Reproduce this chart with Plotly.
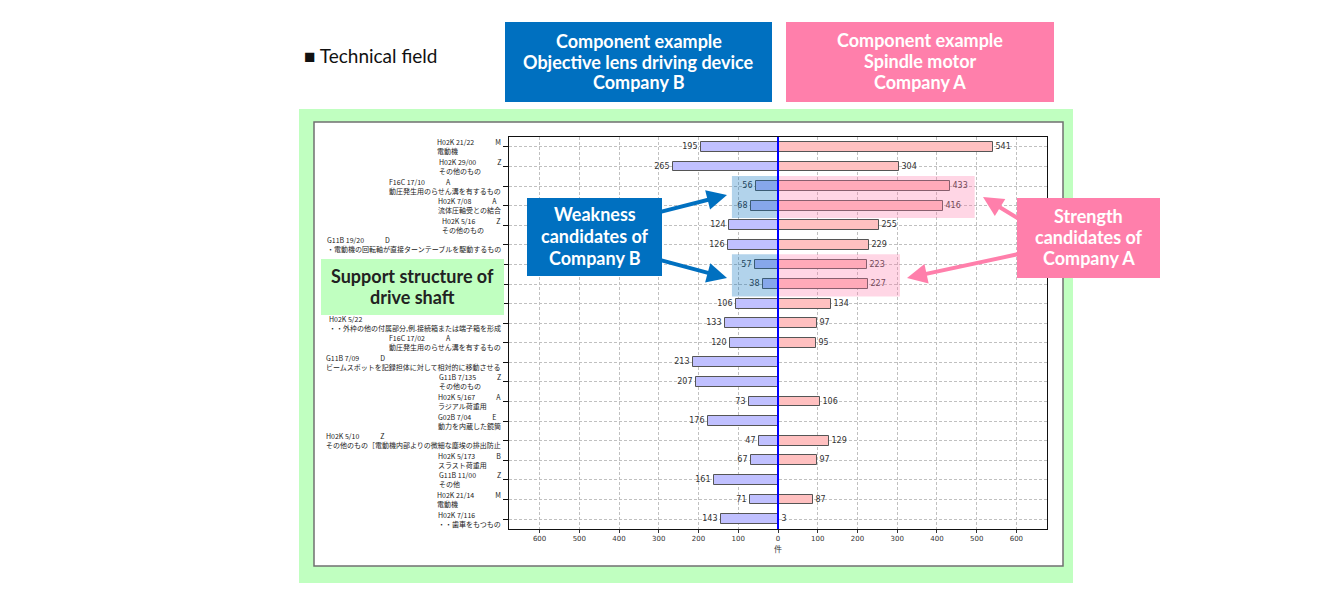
import plotly.graph_objects as go

# ---------------- data ----------------
codes = ["H02K 21/22", "H02K 29/00", "F16C 17/10", "H02K 7/08", "H02K 5/16",
         "G11B 19/20", "", "", "", "H02K 5/22",
         "F16C 17/02", "G11B 7/09", "G11B 7/135", "H02K 5/167", "G02B 7/04",
         "H02K 5/10", "H02K 5/173", "G11B 11/00", "H02K 21/14", "H02K 7/116"]
letters = ["M", "Z", "A", "A", "Z", "D", "", "", "", "",
           "A", "D", "Z", "A", "E", "Z", "B", "Z", "M", ""]
descs = ["電動機", "その他のもの", "動圧発生用のらせん溝を有するもの", "流体圧軸受との結合",
         "その他のもの", "・電動機の回転軸が直接ターンテーブルを駆動するもの", "", "", "",
         "・・外枠の他の付属部分,例.接続箱または端子箱を形成",
         "動圧発生用のらせん溝を有するもの", "ビームスポットを記録担体に対して相対的に移動させる",
         "その他のもの", "ラジアル荷重用", "動力を内蔵した鏡筒",
         "その他のもの［電動機内部よりの微細な塵埃の排出防止", "スラスト荷重用", "その他",
         "電動機", "・・歯車をもつもの"]
company_b = [195, 265, 56, 68, 124, 126, 57, 38, 106, 133,
             120, 213, 207, 73, 176, 47, 67, 161, 71, 143]
company_a = [541, 304, 433, 416, 255, 229, 223, 227, 134, 97,
             95, None, None, 106, None, 129, 97, None, 87, 3]
x_ticks = [-600, -500, -400, -300, -200, -100, 0, 100, 200, 300, 400, 500, 600]
x_ticktext = [str(abs(v)) for v in x_ticks]
weak_rows = [(2, 3), (6, 7)]
strong_rows = [(2, 3, 495), (6, 7, 307)]

header_b = ["Component example", "Objective lens driving device", "Company B"]
header_a = ["Component example", "Spindle motor", "Company A"]
weak_text = ["Weakness", "candidates of", "Company B"]
strong_text = ["Strength", "candidates of", "Company A"]
support_text = ["Support structure of", "drive shaft"]

rows = list(range(len(codes)))

# plot area in pixels
L, R, T, B = 509, 1047, 137, 529
W, H = 1335, 609


def px(x):
    return (x - L) / (R - L)


def py(y):
    return (B - y) / (B - T)


fig = go.Figure()
fig.add_trace(go.Bar(
    y=rows, x=[-v for v in company_b], orientation="h", width=0.5,
    marker=dict(color="#c0c0ff", line=dict(color="#555", width=1)),
    text=[str(v) for v in company_b], textposition="outside",
    textfont=dict(size=8, color="#333", family="DejaVu Sans"),
    constraintext="none", cliponaxis=False, showlegend=False, hoverinfo="skip"))
fig.add_trace(go.Bar(
    y=rows, x=company_a, orientation="h", width=0.5,
    marker=dict(color="#ffc0c0", line=dict(color="#555", width=1)),
    text=[("" if v is None else str(v)) for v in company_a], textposition="outside",
    textfont=dict(size=8, color="#333", family="DejaVu Sans"),
    constraintext="none", cliponaxis=False, showlegend=False, hoverinfo="skip"))

shapes = []
# green background and white panel
shapes.append(dict(type="rect", xref="paper", yref="paper", layer="below",
                   x0=px(299), x1=px(1073), y0=py(583), y1=py(109),
                   fillcolor="#c0ffc0", line=dict(width=0)))
shapes.append(dict(type="rect", xref="paper", yref="paper", layer="below",
                   x0=px(314), x1=px(1063), y0=py(566), y1=py(122),
                   fillcolor="white", line=dict(color="#707070", width=1.5)))
# highlight overlays
for r0, r1 in weak_rows:
    shapes.append(dict(type="rect", xref="x", yref="y", layer="above",
                       x0=-116, x1=0, y0=r0 - 0.52, y1=r1 + 0.63,
                       fillcolor="rgba(0,110,190,0.3)", line=dict(width=0)))
for r0, r1, xe in strong_rows:
    shapes.append(dict(type="rect", xref="x", yref="y", layer="above",
                       x0=0, x1=xe, y0=r0 - 0.52, y1=r1 + 0.63,
                       fillcolor="rgba(255,120,170,0.3)", line=dict(width=0)))
# zero line
shapes.append(dict(type="line", xref="x", yref="paper", layer="above",
                   x0=0, x1=0, y0=0, y1=1, line=dict(color="#0000ff", width=2)))
# header boxes
shapes.append(dict(type="rect", xref="paper", yref="paper",
                   x0=px(505), x1=px(772), y0=py(102), y1=py(22),
                   fillcolor="#0070c0", line=dict(width=0)))
shapes.append(dict(type="rect", xref="paper", yref="paper",
                   x0=px(786), x1=px(1054), y0=py(102), y1=py(22),
                   fillcolor="#ff7fab", line=dict(width=0)))
# callout boxes
shapes.append(dict(type="rect", xref="paper", yref="paper",
                   x0=px(527), x1=px(662), y0=py(276), y1=py(198),
                   fillcolor="#0070c0", line=dict(width=0)))
shapes.append(dict(type="rect", xref="paper", yref="paper",
                   x0=px(1017), x1=px(1160), y0=py(278), y1=py(198),
                   fillcolor="#ff7fab", line=dict(width=0)))
shapes.append(dict(type="rect", xref="paper", yref="paper",
                   x0=px(321), x1=px(504), y0=py(315), y1=py(259),
                   fillcolor="#c0ffc0", line=dict(width=0)))

ann = []
# y labels
for i in rows:
    if not codes[i]:
        continue
    line1 = codes[i] + ("　　　" + letters[i] if letters[i] else "")
    ann.append(dict(xref="paper", yref="y", x=px(503), y=i, xanchor="right",
                    yanchor="middle", align="left", showarrow=False,
                    text=line1 + "<br>" + descs[i],
                    font=dict(size=7, color="#222", family="Noto Sans CJK JP")))

white_bold = dict(family="Lato", size=18, color="white")


def label(x, y, text, font, xanchor="center"):
    ann.append(dict(xref="paper", yref="paper", x=px(x), y=py(y), showarrow=False,
                    text=text, font=font, align="center", xanchor=xanchor,
                    yanchor="middle"))


def block(x, y0, lines, font, step):
    for k, t in enumerate(lines):
        label(x, y0 + k * step, "<b>" + t + "</b>", font)


block(638.5, 41, header_b, white_bold, 20.5)
block(920, 40, header_a, white_bold, 21)
block(594.5, 214, weak_text, white_bold, 22)
block(1088.5, 216, strong_text, white_bold, 21)
block(412.5, 276, support_text, dict(family="Lato", size=18, color="#222"), 21)
label(302, 56, "■ Technical field", dict(family="Lato", size=19, color="#111"), "left")

# arrows
for (tx, ty, sx, sy, col) in [(727, 195, 660, 212, "#0070c0"),
                              (727, 278, 660, 260, "#0070c0"),
                              (983, 197, 1019, 219, "#ff7fab"),
                              (907, 278, 1019, 254, "#ff7fab")]:
    ann.append(dict(xref="paper", yref="paper", x=px(tx), y=py(ty),
                    ax=sx - tx, ay=sy - ty, axref="pixel", ayref="pixel",
                    text="", showarrow=True, arrowhead=2, arrowsize=1,
                    arrowwidth=4, arrowcolor=col, standoff=0))

fig.update_layout(
    width=W, height=H,
    margin=dict(l=L, r=W - R, t=T, b=H - B),
    paper_bgcolor="white", plot_bgcolor="rgba(0,0,0,0)",
    barmode="overlay", bargap=0,
    shapes=shapes, annotations=ann,
    font=dict(family="Noto Sans CJK JP"),
)
fig.update_xaxes(range=[-677, 677], tickvals=x_ticks, ticktext=x_ticktext,
                 tickfont=dict(size=7, color="#333", family="DejaVu Sans"),
                 showgrid=True, gridcolor="#c0c0c0", griddash="3px,2px", gridwidth=1,
                 zeroline=False, showline=True, mirror=True, linecolor="#111",
                 linewidth=1, ticks="outside", ticklen=3, tickcolor="#333",
                 title=dict(text="件", font=dict(size=8, color="#333"), standoff=1))
fig.update_yaxes(range=[19.51, -0.51], tickvals=rows, showticklabels=False,
                 showgrid=True, gridcolor="#c0c0c0", griddash="3px,2px", gridwidth=1,
                 zeroline=False, showline=True, mirror=True, linecolor="#111",
                 linewidth=1, ticks="outside", ticklen=5, tickcolor="#111")

fig.write_html("out.html", config={"displayModeBar": False},
               post_script="document.body.style.margin='0';")
